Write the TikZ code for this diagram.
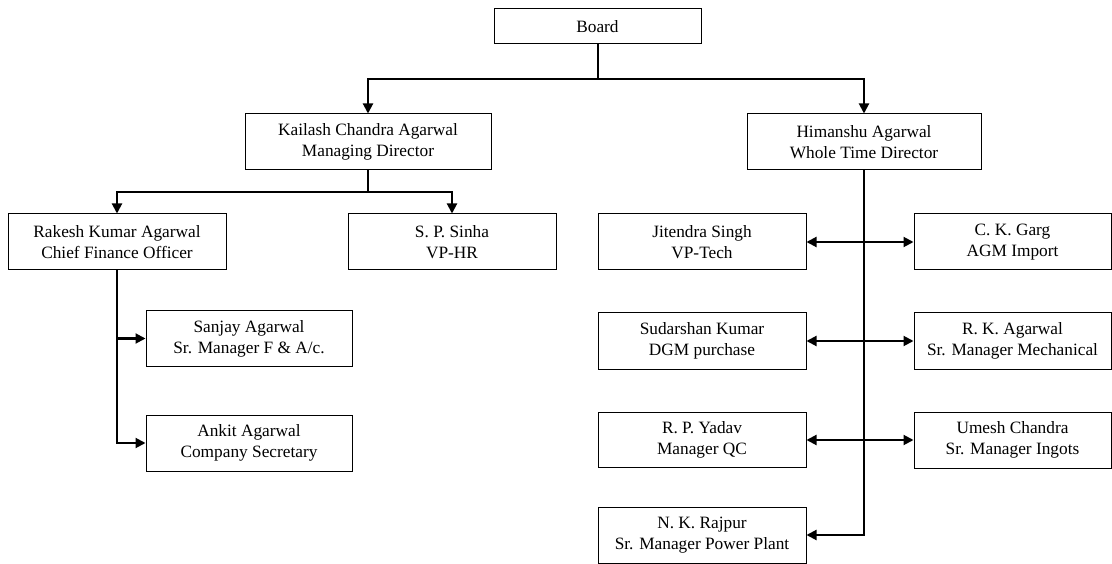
\documentclass[tikz,border=0pt]{standalone}
\usepackage{fontspec}
\setmainfont{Liberation Serif}
\usetikzlibrary{arrows.meta}
\begin{document}
\begin{tikzpicture}[x=1pt,y=-1pt,
  box/.style={draw=black,line width=1pt,align=center,inner sep=0pt,
    font=\fontsize{17.3}{21}\selectfont,minimum height=56pt},
  conn/.style={line width=2pt,line join=miter},
  arr/.style={conn,-{Triangle[length=10pt,width=10pt]}},
  darr/.style={conn,{Triangle[length=10pt,width=10pt]}-{Triangle[length=10pt,width=10pt]}}]
\useasboundingbox (0,0) rectangle (1112,564);
\node[box,minimum width=207pt,minimum height=35pt] (board) at (597.5,26.5) {Board};
\node[box,minimum width=246pt] (kailash) at (368,142) {Kailash Chandra Agarwal\\Managing Director};
\node[box,minimum width=234pt] (himanshu) at (864,142) {Himanshu Agarwal\\Whole Time Director};
\node[box,minimum width=218pt] (rakesh) at (117,242) {Rakesh Kumar Agarwal\\Chief Finance Officer};
\node[box,minimum width=208pt] (sinha) at (452,242) {S. P. Sinha\\VP-HR};
\node[box,minimum width=206pt,minimum height=55pt] (sanjay) at (249,338.5) {Sanjay Agarwal\\Sr. Manager F \& A/c.};
\node[box,minimum width=206pt] (ankit) at (249,443) {Ankit Agarwal\\Company Secretary};
\node[box,minimum width=208pt] (jitendra) at (702,242) {Jitendra Singh\\VP-Tech};
\node[box,minimum width=197pt] (garg) at (1012.5,242) {C. K. Garg\\AGM Import};
\node[box,minimum width=208pt] (sudarshan) at (702,341) {Sudarshan Kumar\\DGM purchase};
\node[box,minimum width=197pt] (rkagarwal) at (1012.5,341) {R. K. Agarwal\\Sr. Manager Mechanical};
\node[box,minimum width=208pt,minimum height=55pt] (yadav) at (702,440) {R. P. Yadav\\Manager QC};
\node[box,minimum width=197pt] (umesh) at (1012.5,440) {Umesh Chandra\\Sr. Manager Ingots};
\node[box,minimum width=208pt] (rajpur) at (702,535) {N. K. Rajpur\\Sr. Manager Power Plant};
% connectors
\coordinate (j1) at (board.south |- 0,79);
\draw[conn] (board.south) -- (j1);
\draw[arr] (j1) -| (kailash.north);
\draw[arr] (j1) -| (himanshu.north);
\coordinate (j2) at (kailash.south |- 0,192);
\draw[conn] (kailash.south) -- (j2);
\draw[arr] (j2) -| (rakesh.north);
\draw[arr] (j2) -| (sinha.north);
\draw[arr] (rakesh.south) |- (ankit.west);
\draw[arr] (rakesh.south |- sanjay.west) -- (sanjay.west);
\draw[arr] (himanshu.south) |- (rajpur.east);
\draw[darr] (jitendra.east) -- (garg.west);
\draw[darr] (sudarshan.east) -- (rkagarwal.west);
\draw[darr] (yadav.east) -- (umesh.west);
\end{tikzpicture}
\end{document}
